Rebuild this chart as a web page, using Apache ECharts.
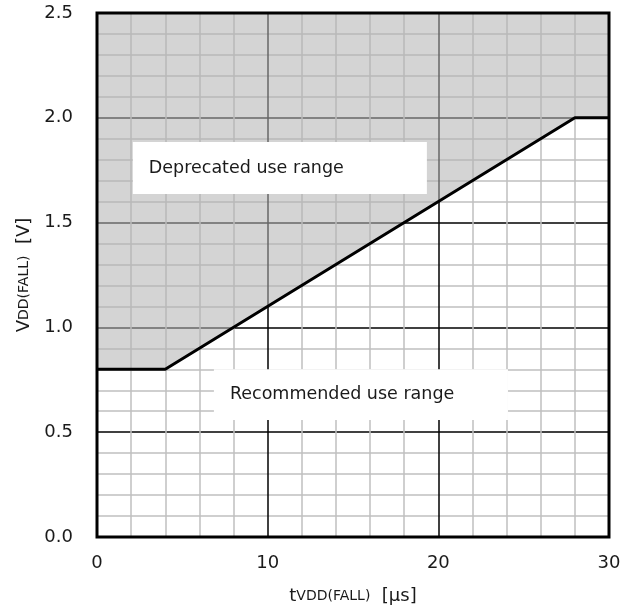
<!DOCTYPE html>
<html>
<head>
<meta charset="utf-8">
<script src="https://cdn.jsdelivr.net/npm/echarts@6/dist/echarts.min.js"></script>
<style>
  html, body { margin: 0; padding: 0; background: #fff; }
  #chart { width: 635px; height: 611px; }
</style>
</head>
<body>
<div id="chart"></div>
<script>
// boundary between recommended and deprecated region: [t (us), V]
const boundary = [[0, 0.8], [4, 0.8], [28, 2.0], [30, 2.0]]
const xTicks = [0, 10, 20, 30]
const yTicks = [0.0, 0.5, 1.0, 1.5, 2.0, 2.5]
// label boxes in data units: [x0, yTop, x1, yBottom]
const boxes = [[2.1, 1.885, 19.33, 1.636], [6.85, 0.80, 24.08, 0.558]]
const boxTexts = ['Deprecated use range', 'Recommended use range']

const font = 'DejaVu Sans, Verdana, sans-serif'
const chart = echarts.init(document.getElementById('chart'), null, { renderer: 'canvas' })

const nameRich = { n: { fontSize: 18, color: '#1a1a1a', fontFamily: font }, s: { fontSize: 14, color: '#1a1a1a', fontFamily: font } }

function renderBox (params, api) {
  const p0 = api.coord([api.value(0), api.value(1)])
  const p1 = api.coord([api.value(2), api.value(3)])
  return {
    type: 'group',
    children: [
      { type: 'rect', shape: { x: p0[0], y: p0[1], width: p1[0] - p0[0], height: p1[1] - p0[1] }, style: { fill: '#fff' } },
      { type: 'text', x: p0[0] + 16, y: (p0[1] + p1[1]) / 2,
        style: { text: boxTexts[params.dataIndex], fill: '#1a1a1a', font: '17.5px ' + font, verticalAlign: 'middle', align: 'left' } },
    ],
  }
}

chart.setOption({
  animation: false,
  textStyle: { fontFamily: font },
  grid: { left: 97, right: 26, top: 13, bottom: 74, show: true, borderColor: '#000', borderWidth: 3, z: 10 },
  xAxis: {
    type: 'value', min: xTicks[0], max: xTicks[xTicks.length - 1], interval: 10,
    name: '{n|t}{s|VDD(FALL)}{n|  [μs]}', nameLocation: 'middle', nameGap: 50,
    nameTextStyle: { rich: nameRich },
    axisLine: { show: false }, axisTick: { show: false },
    axisLabel: { color: '#1a1a1a', fontSize: 18, margin: 17, fontFamily: font },
    splitLine: { lineStyle: { color: '#000', width: 1.5 } },
    minorTick: { show: false, splitNumber: 5 },
    minorSplitLine: { show: true, lineStyle: { color: '#c0c0c0', width: 1.5 } },
  },
  yAxis: {
    type: 'value', min: yTicks[0], max: yTicks[yTicks.length - 1], interval: 0.5,
    name: '{n|V}{s|DD(FALL)}{n|  [V]}', nameLocation: 'middle', nameGap: 63,
    nameTextStyle: { rich: nameRich },
    axisLine: { show: false }, axisTick: { show: false },
    axisLabel: { color: '#1a1a1a', fontSize: 18, margin: 24, fontFamily: font, formatter: v => v.toFixed(1) },
    splitLine: { lineStyle: { color: '#000', width: 1.5 } },
    minorTick: { show: false, splitNumber: 5 },
    minorSplitLine: { show: true, lineStyle: { color: '#c0c0c0', width: 1.5 } },
  },
  series: [
    {
      type: 'line', data: boundary, symbol: 'none', z: 3,
      lineStyle: { color: '#000', width: 3 },
      areaStyle: { origin: 'end', color: 'rgba(179,179,179,0.57)', opacity: 1 },
    },
    {
      type: 'custom', data: boxes, z: 6, silent: true, clip: false,
      renderItem: renderBox,
    },
  ],
})
</script>
</body>
</html>
